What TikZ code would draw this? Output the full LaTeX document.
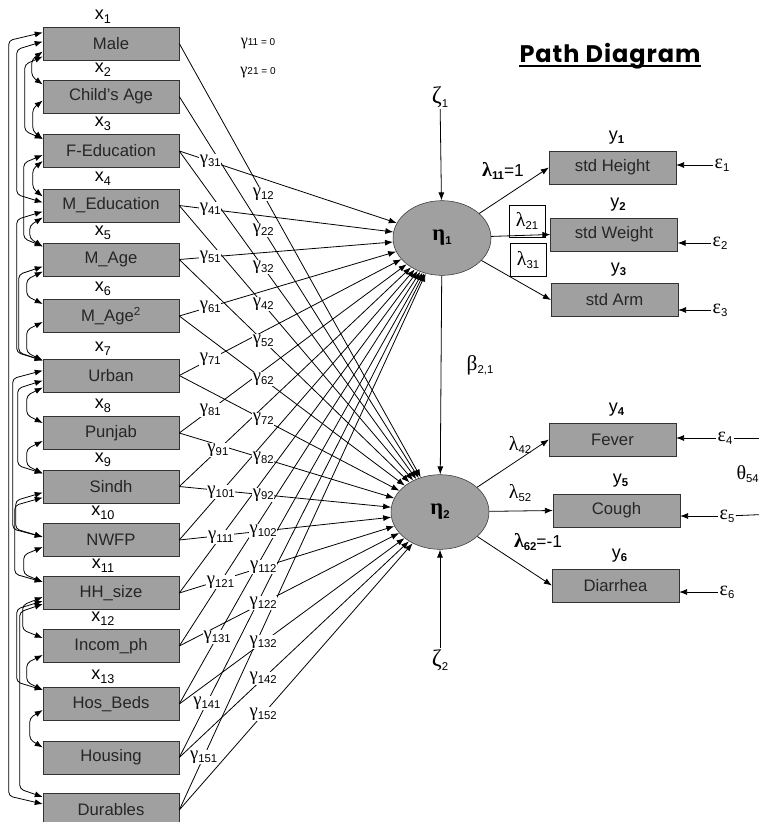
\documentclass[tikz,border=0pt]{standalone}
\usepackage{fontspec}
\setmainfont{Liberation Sans}
\newfontfamily\grk{Liberation Serif}
\newfontfamily\titlefont[LetterSpace=4]{Poppins}
\usetikzlibrary{arrows.meta,calc,shapes.geometric}
\definecolor{boxgray}{RGB}{160,160,160}

% greek letter with small sans index
\newcommand\gk[2]{{\grk #1}\raisebox{-0.3ex}{\fontsize{8.5}{8.5}\selectfont #2}}
\newcommand\bgk[2]{{\grk\bfseries #1}\raisebox{-0.3ex}{\fontsize{8.5}{8.5}\selectfont\bfseries #2}}
\newcommand\xs[1]{x\raisebox{-0.4ex}{\fontsize{9.5}{9.5}\selectfont #1}}
\newcommand\ys[1]{y\raisebox{-0.3ex}{\fontsize{8.5}{8.5}\selectfont\bfseries #1}}

\tikzset{
  xbox/.style={draw=black!80, fill=boxgray, text=black!85, minimum width=102pt,
    minimum height=25pt, inner sep=1pt, font=\fontsize{12.5}{14}\selectfont},
  ybox/.style={xbox, minimum width=95pt},
  latent/.style={ellipse, draw=black!80, fill=boxgray, minimum width=73.5pt,
    minimum height=56pt, font=\fontsize{17}{17}\selectfont},
  gpath/.style={-{Latex[length=6pt,width=4.5pt]}, line width=0.6pt},
  arr/.style={-{Latex[length=6pt,width=4.5pt]}, line width=0.6pt},
  cov/.style={{Latex[length=6pt,width=4.5pt]}-{Latex[length=6pt,width=4.5pt]},
    line width=0.6pt, rounded corners=3pt},
  glab/.style={fill=white, inner sep=0.5pt, font=\fontsize{14}{14}\selectfont},
  xlab/.style={inner sep=0pt, font=\fontsize{13.5}{13.5}\selectfont},
  plab/.style={inner sep=1pt, font=\fontsize{15}{15}\selectfont},
}

\begin{document}
\begin{tikzpicture}[x=0.75pt, y=-0.75pt]
  \useasboundingbox (0,0) rectangle (759,822);

  % exogenous variables
  \foreach \i/\y/\txt in {1/43.5/Male, 2/96.5/Child’s Age, 3/151/F-Education,
      4/205.5/M\_Education, 5/259.5/M\_Age, 6/316/{M\_Age\textsuperscript{2}},
      7/375.5/Urban, 8/433/Punjab, 9/486.5/Sindh, 10/540/NWFP, 11/593/HH\_size,
      12/646/Incom\_ph, 13/704/Hos\_Beds, 14/757.5/Housing, 15/810/Durables}
    \node[xbox] (x\i) at (111,\y) {\txt};
  \foreach \i in {1,...,13}
    \node[xlab] (lx\i) at ($(x\i.center)+(-8,-27)$) {\xs{\i}};

  % latent variables
  \node[latent] (eta1) at (442,238) {\bgk{η}{1}};
  \node[latent] (eta2) at (440,512) {\bgk{η}{2}};
  \node[plab, font=\fontsize{18}{18}\selectfont] (z1) at (440,97) {\gk{ζ}{1}};
  \node[plab, font=\fontsize{18}{18}\selectfont] (z2) at (440,660) {\gk{ζ}{2}};
  \node[plab, font=\fontsize{16}{16}\selectfont] (beta) at (480,365) {\gk{β}{2,1}};

  % indicators
  \node[ybox] (y1) at (612.5,167.5) {std Height};
  \node[ybox] (y2) at (614,234.5) {std Weight};
  \node[ybox] (y3) at (614.5,300) {std Arm};
  \node[ybox] (y4) at (612.5,439.5) {Fever};
  \node[ybox] (y5) at (616.5,510.5) {Cough};
  \node[ybox] (y6) at (615.5,585.5) {Diarrhea};
  \foreach \i in {1,...,6}
    \node[xlab] (ly\i) at ($(y\i.north)+(4,-13)$) {\ys{\i}};

  \node[plab] (e1) at (722,165) {\gk{ε}{1}};
  \node[plab] (e2) at (720,243) {\gk{ε}{2}};
  \node[plab] (e3) at (720,310) {\gk{ε}{3}};
  \node[plab] (e4) at (725,438) {\gk{ε}{4}};
  \node[plab] (e5) at (727,516) {\gk{ε}{5}};
  \node[plab] (e6) at (727,592) {\gk{ε}{6}};
  \node[plab, anchor=west] (th54) at (735,474) {\gk{θ}{54}};
  \coordinate (c4) at (775,438);
  \coordinate (c5) at (775,514);

  % gamma paths
  \foreach \i in {3,...,15}
    \draw[gpath] (x\i.east) -- (eta1);
  \foreach \i in {1,...,15}
    \draw[gpath] (x\i.east) -- (eta2);

  % covariances among the x's
  \foreach \ia/\oa/\ib/\ob/\cx in {1/-11/15/-6/9, 1/-2/4/-3/17, 1/8/2/-12/32,
      1/13/3/-12/25, 2/4/3/-12/33, 3/4/5/-13/24, 3/10/4/-9/33, 4/6/7/-15/17,
      4/12/5/-13/30, 5/7/7/-15/19, 5/12/6/-12/27, 6/6/7/-15/27, 7/-5/10/-3/13,
      7/5/9/-13/18, 7/12/8/-10/27, 8/8/9/-13/27, 9/6/10/-3/16, 9/11/11/-11/15,
      10/7/11/-11/24, 11/4/12/-8/23, 11/8/13/-14/17, 11/11/15/-13/20,
      12/9/13/-14/27, 13/6/14/-10/30}
    \draw[cov] ($(x\ia.west)+(0,\oa)$) -- ++(\cx-43,8)
      -- ($(x\ib.west)+(\cx-43,\ob-8)$) -- ($(x\ib.west)+(0,\ob)$);

  % structural and measurement arrows
  \draw[arr] (z1) -- (eta1);
  \draw[arr] (z2) -- (eta2);
  \draw[arr] (eta1) -- (eta2);
  \draw[arr] (eta1) -- (y1.west);
  \draw[arr] (eta1) -- (y2.west);
  \draw[arr] (eta1) -- (y3.west);
  \draw[arr] (eta2) -- (y4.west);
  \draw[arr] (eta2) -- (y5.west);
  \draw[arr] (eta2) -- (y6.west);
  \foreach \i in {1,...,6}
    \draw[arr] (e\i) -- (e\i -| y\i.east);
  \draw[line width=0.6pt] (e4) -- (c4);
  \draw[line width=0.6pt] (e5) -- (c5);

  % gamma labels
  \foreach \i/\t in {3/0.118, 4/0.118, 5/0.118, 6/0.118, 7/0.118, 8/0.118,
      9/0.147, 10/0.159, 11/0.158, 12/0.157, 13/0.144, 14/0.105, 15/0.093}
    \node[glab] (ga\i) at ($(x\i.east)!\t!(eta1.center)$) {\gk{γ}{\i1}};
  \foreach \i in {1,...,15}
    \node[glab] (gb\i) at ($(x\i.east)!0.322!(eta2.center)$) {\gk{γ}{\i2}};
  \node[plab, font=\fontsize{12}{12}\selectfont] (g11) at (258,44)
    {{\grk γ}{\fontsize{7.5}{7.5}\selectfont 11 = 0}};
  \node[plab, font=\fontsize{12}{12}\selectfont] (g21) at (258,73)
    {{\grk γ}{\fontsize{7.5}{7.5}\selectfont 21 = 0}};

  % lambda labels
  \node[plab] (l11) at (503,171) {\bgk{λ}{11}\fontsize{13}{13}\selectfont=1};
  \node[plab, draw, minimum width=27pt, minimum height=24pt] (l21) at (527,221) {\gk{λ}{21}};
  \node[plab, draw, fill=white, minimum width=27pt, minimum height=25pt] (l31) at (528,260) {\gk{λ}{31}};
  \node[plab] (l42) at (520,445) {\gk{λ}{42}};
  \node[plab] (l52) at (520,493) {\gk{λ}{52}};
  \node[plab] (l62) at (538,542) {\bgk{λ}{62}\fontsize{13}{13}\selectfont=-1};

  % title
  \node[inner sep=0pt, font=\titlefont\bfseries\fontsize{18}{18}\selectfont] (title) at (610,56) {Path Diagram};
  \draw[line width=1.3pt] ([yshift=-3pt]title.base west) -- ([yshift=-3pt]title.base east);
\end{tikzpicture}
\end{document}
